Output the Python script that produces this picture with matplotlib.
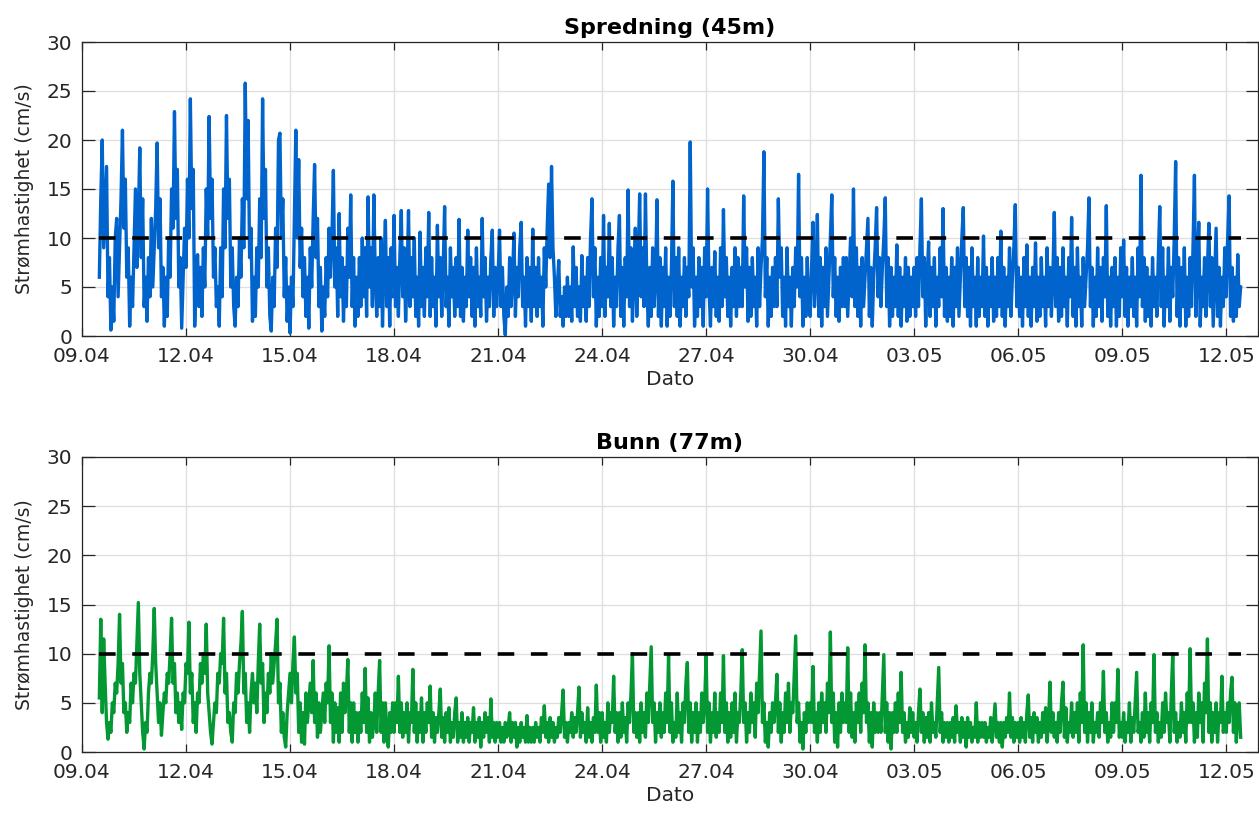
import numpy as np
import pandas as pd
import matplotlib
matplotlib.use("Agg")
import matplotlib.pyplot as plt
import matplotlib.dates as mdates

# Hourly current speed (cm/s); first value 09.04 12:00, last value 12.05 10:00
spredning_45m = [
    6, 14, 20, 9, 13, 17.3, 4, 8, 0.6, 5, 1.5, 10,                                   # 09.04 12-23
    12, 4, 9, 14, 21, 11, 16, 6, 9, 1, 6, 3, 9, 15, 7, 12, 19.2, 8, 14, 3, 6, 1.5, 8, 4,  # 10.04
    12, 5, 9, 13, 19.7, 9, 14, 4, 7, 1, 6, 2, 10, 6, 15, 11, 22.9, 12, 17, 5, 8, 0.8, 6, 11,  # 11.04
    7, 16, 10, 24.2, 13, 17, 1, 6, 8.3, 3, 7, 2, 9, 5, 15, 10, 22.4, 12, 16, 6, 9, 3, 5, 1,  # 12.04
    9, 4, 15, 9, 22.5, 12, 16, 5, 9, 3, 1, 6, 3, 10, 6, 14, 9, 25.8, 14, 22, 8, 11, 1.5, 6,  # 13.04
    2, 9, 5, 14, 8, 24.2, 12, 17, 5, 9, 2, 0.5, 6, 3, 11, 7, 20, 20.7, 10, 14, 4, 8, 1.5, 5,  # 14.04
    0.3, 6, 3, 12, 21, 10, 18, 7, 11, 4, 8, 2, 6, 0.8, 9, 5, 12, 17.5, 8, 12, 3, 7, 0.5, 5,  # 15.04
    2, 8, 4, 11, 6, 10, 16.9, 5, 9, 2, 12.5, 4, 8, 1.5, 7, 3, 11, 6, 14.4, 3, 8, 1, 6, 2,  # 16.04
    8, 3, 10, 4, 9, 2, 14.2, 5, 9, 3, 14.4, 6, 2, 8, 3, 10, 1, 7, 11.8, 3, 8, 1, 9, 4,  # 17.04
    12.3, 3, 7, 2, 8, 12.8, 4, 9, 1.5, 6, 12.8, 3, 8, 4, 10, 2, 6, 1, 10.6, 3, 7, 2, 9, 4,  # 18.04
    12.6, 2, 8, 3, 6, 1, 11.3, 4, 8, 2, 7, 13.2, 3, 6, 1, 9, 4, 7, 2, 8, 3, 11.9, 2, 7,  # 19.04
    1.5, 6, 3, 10.8, 4, 8, 2, 7, 1, 9, 3, 6, 2, 12, 4, 8, 1.5, 6, 3, 8, 10.8, 2, 7, 3,  # 20.04
    6, 10.8, 3, 7, 2, 0.1, 5, 2, 8, 3, 6, 10.5, 2, 7, 4, 9, 11.6, 3, 6, 1, 8, 3, 7, 1.5,  # 21.04
    10.9, 3, 7, 2, 8, 3, 6, 1, 9, 5, 11, 15.5, 8, 17.3, 9, 6, 2, 5, 7.7, 2, 4, 1, 5, 2,  # 22.04
    6, 2, 5, 1.5, 9.1, 3, 7, 2, 5, 1.5, 8.2, 3, 6, 1.5, 8, 3, 10, 14, 4, 9, 1, 6, 2, 8,  # 23.04
    3, 12.3, 2, 7, 4, 11.5, 3, 8, 1, 6, 3, 9, 12.3, 2, 7, 1, 8, 4, 14.9, 3, 9, 1.5, 6, 11,  # 24.04
    2, 8, 14.5, 4, 9, 3, 14.5, 5, 1, 7, 2, 9, 3, 6, 13.9, 2, 8, 1, 7, 3, 9, 1, 6, 2,  # 25.04
    7, 15.8, 3, 8, 2, 9, 1, 6, 3, 8, 2, 7, 4, 19.8, 5, 9, 1, 6, 2, 8, 3, 7, 1, 9,  # 26.04
    4, 15, 5, 1, 7, 3, 8.6, 2, 6, 1.5, 9, 3, 12.9, 4, 8, 2, 6, 1, 7, 3, 9, 2, 8, 3,  # 27.04
    7, 3, 14.3, 5, 9, 1.5, 7, 2, 8, 3, 6, 1, 9, 3, 7, 10, 18.8, 4, 8, 1, 6, 2, 7, 3,  # 28.04
    8, 3, 14, 6, 9, 2, 6, 1, 9, 3, 6, 1, 7, 3, 9, 5, 16.5, 4, 8, 1, 6, 2, 8, 3,  # 29.04
    2, 7, 11.6, 3, 6, 12.4, 2, 8, 1, 7, 3, 9, 2, 6, 10, 14.4, 4, 8, 2, 6, 1.5, 7, 3, 8,  # 30.04
    3, 8, 2, 6, 10, 4, 15, 3, 9, 2, 7, 1, 8, 3, 6, 9, 12, 2, 7, 1, 6, 9, 13.1, 4,  # 01.05
    8, 3, 7, 10, 14.1, 3, 8, 1, 7, 2, 6, 3, 9.3, 2, 7, 1, 6, 3, 8, 1.5, 7, 2, 6, 3,  # 02.05
    7, 2, 8, 3, 9, 14, 4, 8, 1, 6, 9.6, 2, 7, 3, 8, 1, 6, 3, 9, 4, 13, 2, 7, 1.5,  # 03.05
    6, 2, 8, 1, 7, 3, 9, 2, 6, 10, 13.1, 3, 8, 2, 7, 1, 9, 3, 6, 1, 8, 2, 6, 3,  # 04.05
    10.2, 2, 7, 1, 6, 3, 8, 1.5, 6, 2, 8, 3, 10.7, 2, 7, 1, 6, 3, 9, 2, 6, 9, 13.4, 3,  # 05.05
    7, 2, 6, 1, 8, 3, 9.3, 2, 6, 1, 7, 3, 9.5, 1.5, 6, 2, 8, 3, 6, 1, 9, 3, 7, 2,  # 06.05
    6, 12.6, 3, 8, 1.5, 7, 2, 9, 3, 6, 1, 8, 4, 12.1, 2, 7, 1, 9, 3, 6, 1, 8, 3, 6,  # 07.05
    9, 14.1, 3, 7, 1, 6, 2, 9, 3, 7, 1.5, 8, 4, 13.3, 2, 6, 1, 7, 3, 8, 1, 6, 2, 9,  # 08.05
    4, 9.8, 2, 7, 1, 6, 3, 8, 2, 6, 1, 9, 4, 16.4, 3, 8, 1.5, 7, 2, 6, 1, 8, 3, 6,  # 09.05
    2, 8, 13.2, 3, 9, 1, 6, 3, 9, 1.5, 7, 4, 10, 17.8, 2, 8, 1, 7, 3, 9, 1, 6, 2, 8,  # 10.05
    3, 9, 16.4, 2, 7, 11.6, 1, 6, 3, 8, 2, 7, 11.5, 3, 8, 1, 6, 11, 2, 7, 1, 6, 3, 9,  # 11.05
    4, 10, 14.3, 2, 7, 1.5, 6, 2, 8.3, 3, 5,                                          # 12.05 00-10
]

bunn_77m = [
    5.5, 13.5, 4, 11.5, 7, 3, 1.3, 3, 2, 5, 4, 7,                                    # 09.04 12-23
    6, 9, 14, 7, 9, 4, 5, 2, 4, 3, 7, 5, 8, 7, 11, 15.2, 8, 5, 2, 0.3, 3, 2, 6, 8,  # 10.04
    7, 10, 14.6, 9, 6, 3, 5, 1.7, 4, 6, 5, 8, 7, 10, 13.6, 7, 9, 4, 6, 3, 5, 2.3, 6, 5,  # 11.04
    9, 8, 13.2, 6, 8, 3, 5, 2, 6, 5, 9, 7, 10, 8, 13, 6, 4, 2, 0.8, 3, 5, 4, 8, 7,  # 12.04
    10, 9, 13.6, 6, 8, 3, 4, 2, 1, 5, 4, 8, 6, 9, 11, 14.3, 6, 8, 3, 5, 2, 6, 8, 5,  # 13.04
    7, 4, 9, 13, 7, 9, 3, 6, 4, 8, 6, 10, 7, 9, 11, 13.5, 5, 7, 2, 4, 1.5, 0.5, 4, 6,  # 14.04
    8, 5, 9, 11.7, 6, 8, 2, 5, 1, 4, 0.8, 6, 3, 5, 7, 4, 9.3, 3, 6, 1.5, 5, 2, 4, 6,  # 15.04
    3, 7, 5, 10.8, 3, 6, 1, 5, 2, 4.5, 1, 6, 2, 7, 4, 6, 9.4, 2, 5, 1, 5, 2, 4, 1,  # 16.04
    4, 2, 6, 3, 8.5, 2, 5.5, 1, 4, 1.5, 3, 6, 2, 6, 9.3, 2, 5, 1, 5, 2, 0.5, 4, 2, 5,  # 17.04
    2, 5, 3, 7.7, 2, 5, 1.5, 4, 2, 5, 1, 4, 3, 8.4, 2, 5, 1, 4, 2, 5.5, 1, 4, 2, 5,  # 18.04
    3, 6.7, 1.5, 4, 1, 3.5, 2, 4, 6.4, 1.5, 3.5, 1, 4, 2, 4.5, 1, 3, 1.5, 4, 5.5, 1, 3, 1.5, 4,  # 19.04
    1, 3, 1.5, 3.5, 1, 3, 2, 4.5, 1, 3, 1.5, 3.5, 0.5, 3, 1.5, 4, 2, 3.5, 1, 5.4, 1.5, 3, 1, 3,  # 20.04
    1.5, 3, 1, 2.5, 1, 3, 1.5, 2.5, 4, 1, 3, 1.5, 3, 0.5, 2.5, 1, 3, 1.5, 2.5, 1, 3.7, 1, 2.5, 1,  # 21.04
    2.5, 1, 3, 1.5, 2.5, 1, 3.5, 2, 4.7, 1.5, 3, 1, 3.5, 1.5, 3, 1, 2.5, 1.5, 3.5, 2, 4, 6.3, 1.5, 3,  # 22.04
    1, 3, 2, 4, 1.5, 3.5, 2, 4, 6.6, 1.5, 4, 2, 3, 1, 4.5, 1.5, 3, 1, 3.5, 2, 6.8, 2, 4, 1,  # 23.04
    4, 1.5, 3, 1, 5, 2, 4, 3, 7.7, 2, 4, 1, 4, 1.5, 5, 2, 3.5, 1, 5, 3, 6, 10, 2, 4,  # 24.04
    1.5, 4, 1, 5, 2, 4, 1.5, 6, 3, 7, 10.7, 3, 5, 1, 4, 2, 5, 1.5, 4, 2, 6, 3, 9.8, 2,  # 25.04
    5, 1, 3, 1.5, 6, 2, 4, 1, 5, 3, 7, 9.1, 2, 5, 1, 4, 2, 5, 1, 4, 2, 6, 3, 5,  # 26.04
    9.8, 2, 5, 1, 4, 2, 6, 1.5, 4, 2, 6, 3, 9.8, 2, 5, 1, 4, 1.5, 5, 2, 6, 1, 4, 3,  # 27.04
    6, 10.4, 3, 5, 1, 4, 2, 6, 3, 5, 1.5, 7, 4, 8, 12.3, 3, 5, 1, 3, 0.5, 4, 2, 5, 3,  # 28.04
    5, 7.9, 2, 5, 1, 4, 2, 6, 3, 7, 2, 5, 4, 8, 11.8, 3, 5, 1, 3, 0.3, 4, 2, 5, 3,  # 29.04
    5, 3, 8.7, 2, 4, 1, 5, 2, 6, 3, 5, 2, 7, 4, 12.2, 3, 6, 1, 4, 0.5, 5, 2, 6, 3,  # 30.04
    5, 3, 10.6, 2, 6, 1.5, 4, 1, 5, 3, 6, 2, 7, 4, 10.9, 3, 5, 1, 4, 0.5, 5, 2, 4, 2,  # 01.05
    4, 2, 6, 9.9, 2, 5, 1, 4, 0.3, 4, 2, 5, 2, 6, 3, 8.1, 2, 4, 1, 3, 1.5, 4.5, 2, 4,  # 02.05
    1.5, 3, 1, 4, 6.4, 2, 4, 1, 3.5, 1.5, 4, 1, 5, 2, 3, 1.5, 5, 8.6, 2, 4, 1, 3, 1.5, 3,  # 03.05
    1, 3, 1.5, 3.5, 1, 4.7, 2, 3, 1, 3.5, 1.5, 3, 0.5, 3.5, 1.5, 3, 1, 2.5, 1.5, 5, 1, 3, 1.5, 3,  # 04.05
    1.5, 3, 1, 2.5, 1.5, 3.5, 1, 3, 4.9, 1.5, 3, 1, 3, 0.5, 3, 1.5, 3.5, 2, 6, 1.5, 3.5, 1, 3, 1.5,  # 05.05
    3, 1, 3.5, 1.5, 3, 1, 4, 5.8, 1.5, 3.5, 1, 4, 2, 3.5, 1, 3, 1.5, 4, 2, 4.5, 1, 3, 7.1, 2,  # 06.05
    4, 1.5, 3, 1, 4, 2, 5, 7.1, 1.5, 4.5, 1, 3, 2, 5, 1.5, 4, 2, 5, 1, 6, 3, 10.9, 2, 5,  # 07.05
    1, 4, 2, 5, 1, 3, 2, 4, 1.5, 5, 3, 8.2, 2, 4, 1, 3, 1.5, 5, 2, 5, 3, 8.4, 1.5, 3,  # 08.05
    1.5, 4, 1, 3, 2, 5, 1, 3.5, 2, 5, 8.1, 2, 3, 1, 4, 1.5, 6, 2, 4, 1, 5, 3, 9.9, 2,  # 09.05
    4, 1, 3, 1.5, 5, 2, 6, 3, 4, 1, 6, 10, 2, 4, 1, 3, 1.5, 5, 2, 4, 1, 6, 3, 10.5,  # 10.05
    3, 5, 1, 4, 1.5, 6, 3, 5, 1, 7, 4, 11.5, 2, 5, 1, 4, 2, 5, 1, 4, 3, 7.7, 2, 4,  # 11.05
    2, 5, 3, 6, 7.6, 2, 5, 1, 4, 5, 1.5,                                             # 12.05 00-10
]

terskel = 10  # reference level (cm/s)
titler = ["Spredning (45m)", "Bunn (77m)"]
farger = ["#0064CC", "#039833"]
y_ticks = [0, 5, 10, 15, 20, 25, 30]

start = pd.Timestamp("2021-04-09 12:00")
x_ticks = pd.date_range("2021-04-09", periods=12, freq="3D")
x_lim = (pd.Timestamp("2021-04-09 00:00"), pd.Timestamp("2021-05-12 22:00"))

W, H = 1259, 814
fig = plt.figure(figsize=(W / 100, H / 100), dpi=100)
ax_top = fig.add_axes([82 / W, 1 - 336 / H, 1176 / W, 294 / H])
ax_bot = fig.add_axes([82 / W, 1 - 752 / H, 1176 / W, 295 / H])

txt = "#262626"
for ax, serie, tittel, farge in zip([ax_top, ax_bot], [spredning_45m, bunn_77m], titler, farger):
    tid = start + pd.to_timedelta(np.arange(len(serie)), unit="h")
    ax.plot(tid, serie, color=farge, lw=2.4, zorder=2)
    ax.plot([tid[0], tid[-1]], [terskel, terskel], color="black", lw=2.6,
            linestyle=(0, (4.6, 4.6)), zorder=3)

    ax.set_xlim(*x_lim)
    ax.set_ylim(0, 30)
    ax.set_yticks(y_ticks)
    ax.set_xticks(x_ticks)
    ax.xaxis.set_major_formatter(mdates.DateFormatter("%d.%m"))
    ax.grid(True, color="#dedede", linewidth=0.9)
    ax.set_axisbelow(True)
    ax.tick_params(direction="in", top=True, right=True, labelsize=14.5,
                   colors=txt, width=0.9)
    ax.tick_params(axis="x", length=6, pad=8)
    ax.tick_params(axis="y", length=9, pad=7)
    for s in ax.spines.values():
        s.set_color(txt)
        s.set_linewidth(0.9)
    ax.set_title(tittel, fontweight="bold", fontsize=16, pad=6, color="black")
    ax.set_xlabel("Dato", fontsize=14.5, color=txt, labelpad=3)
    ax.set_ylabel("Strømhastighet (cm/s)", fontsize=13.5, color=txt, labelpad=9)

fig.savefig("out.png", dpi=100)
